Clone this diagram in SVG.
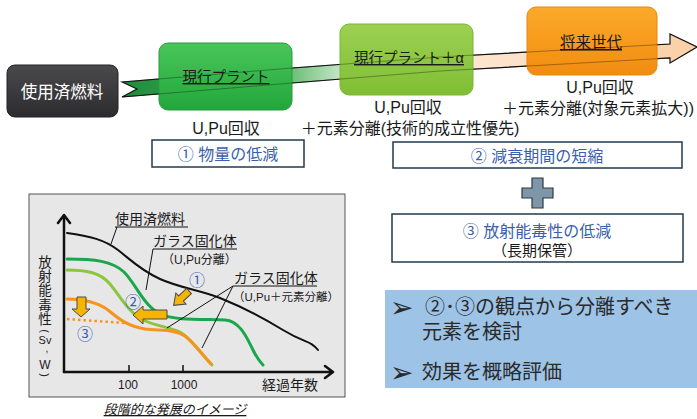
<svg xmlns="http://www.w3.org/2000/svg" width="697" height="419" viewBox="0 0 697 419">
<defs>
<style>
text{font-family:"Liberation Sans","Noto Sans CJK JP",sans-serif;fill:#1a1a1a}
.lbl{font-size:16px;text-anchor:middle}
.blue{fill:#3a5fae}
.frame{fill:#fff;stroke:#1f3a4d;stroke-width:1.5}
.cv{fill:none;stroke-linecap:round}
.lead{stroke:#111;stroke-width:1}
.ch{font-size:14px}
.ya{fill:#f5b400;stroke:#4a4a4a;stroke-width:1}
.sum{font-size:20px;fill:#2a2a2a}
.bul{font-family:"DejaVu Sans",sans-serif;font-size:28px;fill:#2a2a2a}
.yl{text-anchor:middle}
</style>
<linearGradient id="band" x1="122" y1="0" x2="697" y2="0" gradientUnits="userSpaceOnUse">
<stop offset="0" stop-color="#1b8c3a"/>
<stop offset="0.28" stop-color="#5db86a"/>
<stop offset="0.4" stop-color="#d9eed9"/>
<stop offset="0.6" stop-color="#fde6d3"/>
<stop offset="1" stop-color="#fccfa6"/>
</linearGradient>
<linearGradient id="g1" x1="0" y1="0" x2="0" y2="1">
<stop offset="0" stop-color="#49c65a"/><stop offset="1" stop-color="#22a63b"/>
</linearGradient>
<linearGradient id="g2" x1="0" y1="0" x2="0" y2="1">
<stop offset="0" stop-color="#9dd052"/><stop offset="1" stop-color="#7fbf34"/>
</linearGradient>
<linearGradient id="g3" x1="0" y1="0" x2="0" y2="1">
<stop offset="0" stop-color="#fbaa2a"/><stop offset="1" stop-color="#f28c10"/>
</linearGradient>
<linearGradient id="g0" x1="0" y1="0" x2="0" y2="1">
<stop offset="0" stop-color="#4a4a4c"/><stop offset="1" stop-color="#2c2c2e"/>
</linearGradient>
</defs>

<g id="connectors">
<path id="band-arrow" d="M122,82 L292,68 L440,57 L670,44 L670,34 L697,47 L670,63 L670,58 L440,71 L292,83 L122,97 L137,89 Z" fill="url(#band)" stroke="#111" stroke-width="1.2"/>
</g>

<g id="node-spent">
<rect x="7" y="65" width="111" height="52" rx="8" fill="url(#g0)" stroke="#222" stroke-width="1"/>
<text x="62" y="98" font-size="16.5" text-anchor="middle" style="fill:#fff">使用済燃料</text>
</g>

<g id="node-current">
<rect x="159" y="43" width="133" height="67" rx="9" fill="url(#g1)" stroke="#2a9a40" stroke-width="1"/>
<text x="226" y="82" font-size="14.5" text-anchor="middle" text-decoration="underline">現行プラント</text>
</g>

<g id="node-alpha">
<rect x="340" y="24" width="133" height="71" rx="9" fill="url(#g2)" stroke="#7ab53a" stroke-width="1"/>
<text x="409" y="63" font-size="14.5" text-anchor="middle" text-decoration="underline">現行プラント＋α</text>
</g>

<g id="node-future">
<rect x="527" y="7" width="130" height="68" rx="9" fill="url(#g3)" stroke="#e8870f" stroke-width="1"/>
<text x="591" y="48" font-size="15.5" text-anchor="middle" text-decoration="underline">将来世代</text>
</g>

<g id="band-edges" opacity="0.35" stroke="#111" stroke-width="1" fill="none">
<path d="M122,82 L292,68 L440,57 L670,44"/>
<path d="M122,97 L292,83 L440,71 L670,58"/>
</g>

<g id="labels-top">
<text class="lbl" x="226" y="134">U,Pu回収</text>
<text class="lbl" x="408" y="113">U,Pu回収</text>
<text class="lbl" x="410" y="134">＋元素分離(技術的成立性優先)</text>
<text class="lbl" x="600" y="93">U,Pu回収</text>
<text x="502" y="114" font-size="16">＋元素分離(対象元素拡大))</text>
</g>

<g id="box1">
<rect class="frame" x="152" y="140" width="152" height="27"/>
<text class="lbl blue" x="228" y="160">①  物量の低減</text>
</g>

<g id="box2">
<rect class="frame" x="393" y="142" width="289" height="26"/>
<text class="lbl blue" x="537" y="162">②  減衰期間の短縮</text>
</g>

<g id="plus">
<path d="M532,178 H543 V188 H553 V198 H543 V208 H532 V198 H522 V188 H532 Z" fill="#7f96a8" stroke="#2b3a47" stroke-width="1.2"/>
</g>

<g id="box3">
<rect class="frame" x="392" y="214" width="291" height="48"/>
<text class="lbl blue" x="537" y="237">③  放射能毒性の低減</text>
<text x="537" y="256" font-size="15" text-anchor="middle">（長期保管）</text>
</g>

<g id="summary">
<rect x="385" y="290" width="312" height="98" fill="#9dc3e6"/>
<text class="bul" x="390" y="317">➢</text>
<text class="sum" x="425" y="314">②･③の観点から分離すべき</text>
<text class="sum" x="422" y="339">元素を検討</text>
<text class="bul" x="390" y="382">➢</text>
<text class="sum" x="422" y="379">効果を概略評価</text>
</g>

<g id="chart">
<rect x="29" y="194" width="316" height="203" fill="#e8e7e8" stroke="#555" stroke-width="1"/>
<g stroke="#111" stroke-width="2.5" fill="none" stroke-linecap="round" stroke-linejoin="round">
<path d="M64,372 V216 M58,223 L64,215 L70,223"/>
<path d="M64,372 H332 M325,366 L333,372 L325,378"/>
</g>
<path d="M129,365 V372 M183,365 V372" stroke="#111" stroke-width="1.5"/>
<text x="128" y="389" font-size="12" text-anchor="middle">100</text>
<text x="184" y="389" font-size="12" text-anchor="middle">1000</text>
<text x="262" y="390" class="ch">経過年数</text>
<g id="ylabel" style="fill:#333">
<text class="yl" x="45" y="267" font-size="13.5">放</text>
<text class="yl" x="45" y="281" font-size="13.5">射</text>
<text class="yl" x="45" y="295" font-size="13.5">能</text>
<text class="yl" x="45" y="310" font-size="13.5">毒</text>
<text class="yl" x="45" y="324" font-size="13.5">性</text>
<text class="yl" font-size="11" transform="translate(45,331) rotate(90)" dy="4">(</text>
<text class="yl" x="45" y="344" font-size="11">Sv</text>
<text class="yl" x="47" y="352" font-size="10">,</text>
<text class="yl" x="45" y="369" font-size="12">W</text>
<text class="yl" font-size="11" transform="translate(45,375) rotate(90)" dy="4">)</text>
</g>

<path class="cv" d="M67,233 C90,236 105,240 118,250 S140,270 160,279 S200,290 220,298 S260,316 283,330 S310,340 318,350" stroke="#111" stroke-width="2"/>
<path class="cv" d="M67,259 C95,259 112,261 124,272 C136,284 143,305 160,314 C175,321 205,319 225,320 C240,321 247,338 253,350 C257,358 260,362 263,365" stroke="#1aa64a" stroke-width="3"/>
<path class="cv" d="M67,270 C85,270 100,272 110,284 C120,296 128,312 143,320 C155,326 170,327 180,332 C190,338 197,348 204,356 L212,365" stroke="#8cc63f" stroke-width="3"/>
<path class="cv" d="M67,299 C85,299 97,302 108,310 C120,320 128,326 145,329 C160,331 175,329 185,336 C193,342 200,352 211,364" stroke="#f7941d" stroke-width="3"/>
<path d="M67,319 L125,323" stroke="#f7941d" stroke-width="2.5" stroke-dasharray="2.5,3" fill="none"/>

<g class="lead">
<line x1="117" y1="227" x2="111" y2="244"/>
<line x1="115" y1="227" x2="188" y2="227"/>
<line x1="153" y1="249" x2="146" y2="290"/>
<line x1="153" y1="249" x2="237" y2="249"/>
<line x1="233" y1="286" x2="167" y2="328"/>
<line x1="233" y1="286" x2="202" y2="348"/>
<line x1="233" y1="286" x2="317" y2="286"/>
</g>
<text x="115" y="224" class="ch">使用済燃料</text>
<text x="153" y="246" class="ch">ガラス固化体</text>
<text x="162" y="264" font-size="12">（U,Pu分離）</text>
<text x="234" y="283" class="ch">ガラス固化体</text>
<text x="233" y="301" font-size="11.5">（U,Pu＋元素分離）</text>

<text x="197" y="286" font-size="16" text-anchor="middle" class="blue">①</text>
<text x="133" y="308" font-size="16" text-anchor="middle" class="blue">②</text>
<text x="85" y="340" font-size="16" text-anchor="middle" class="blue">③</text>

<path class="ya" transform="translate(189,291) rotate(137)" d="M0,-3.5 H11 V-7.5 L21,0 L11,7.5 V3.5 H0 Z"/>
<path class="ya" d="M167,310 V319 H143 V324 L133,315 L143,306 V310 Z"/>
<path class="ya" d="M77,297 H86 V309 H90 L81,317 L72,309 H77 Z"/>
</g>

<text x="175" y="414" font-size="13" text-anchor="middle" font-style="italic" text-decoration="underline">段階的な発展のイメージ</text>
</svg>
